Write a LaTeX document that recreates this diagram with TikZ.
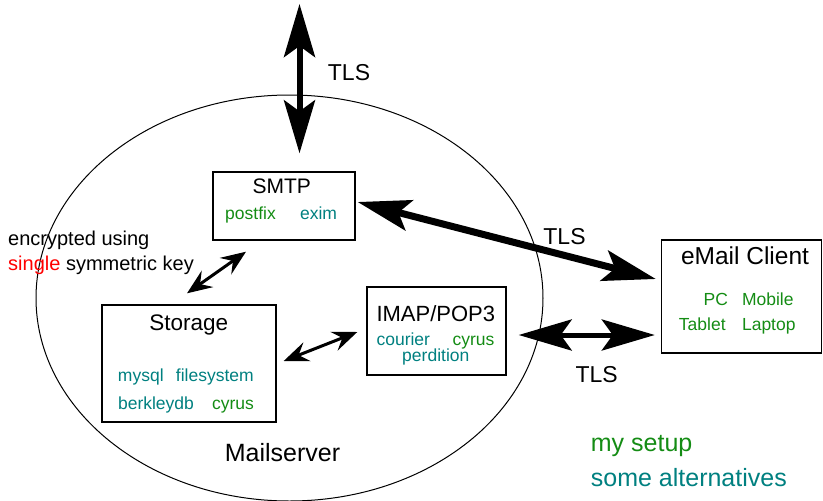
\documentclass[tikz,border=0pt]{standalone}
\usepackage{fontspec}
\setmainfont{Liberation Sans}
\usetikzlibrary{arrows.meta,calc}
\definecolor{mygreen}{RGB}{20,140,20}
\definecolor{myteal}{RGB}{0,128,128}
\definecolor{myred}{RGB}{255,0,0}
\begin{document}
\begin{tikzpicture}[x=1pt,y=-1pt,
  box/.style={draw=black, line width=1.4pt, rectangle, inner sep=0pt},
  lbl/.style={anchor=base, inner sep=0pt},
  small/.style={lbl, font=\fontsize{17.5}{20}\selectfont},
  alt/.style={small, text=myteal},
  mine/.style={small, text=mygreen},
  tls/.style={lbl, font=\fontsize{23}{26}\selectfont},
  big/.style={line width=#1, {Stealth[length=53pt,width=31pt,inset=11pt]}-{Stealth[length=53pt,width=31pt,inset=11pt]}},
  thin/.style={line width=3pt, {Stealth[length=25pt,width=20pt,inset=9pt]}-{Stealth[length=25pt,width=20pt,inset=9pt]}}
]
\useasboundingbox (0,0) rectangle (823,501);

% mailserver ellipse
\draw[line width=1pt] (289.5,298) ellipse [x radius=253.5pt, y radius=203pt];
\node[lbl, font=\fontsize{25}{28}\selectfont] (mailserver) at (282.5,461.7) {Mailserver};

% boxes
\node[box, minimum width=142pt, minimum height=68pt] (smtp) at (284,206) {};
\node[box, minimum width=174pt, minimum height=117pt] (storage) at (189,363.5) {};
\node[box, minimum width=139pt, minimum height=88pt] (imap) at (436.5,331) {};
\node[box, minimum width=160pt, minimum height=113pt] (client) at (741.5,296.5) {};

% SMTP
\node[lbl, font=\fontsize{21}{24}\selectfont] (smtpT) at (281.7,193) {SMTP};
\node[mine] (postfix) at (250.5,219) {postfix};
\node[alt] (exim) at (318.5,219) {exim};

% Storage
\node[lbl, font=\fontsize{22.5}{26}\selectfont] (storageT) at (188.7,330) {Storage};
\node[alt] (mysql) at (140.8,381.7) {mysql};
\node[alt] (filesystem) at (214.8,381.7) {filesystem};
\node[alt] (berkleydb) at (156,409) {berkleydb};
\node[mine] (cyrusS) at (233,409) {cyrus};

% IMAP
\node[lbl, font=\fontsize{22}{25}\selectfont] (imapT) at (435.8,321.7) {IMAP/POP3};
\node[alt] (courier) at (403.3,345) {courier};
\node[mine] (cyrusI) at (473.5,345) {cyrus};
\node[alt] (perdition) at (435.8,361.7) {perdition};

% Client
\node[lbl, font=\fontsize{24.5}{28}\selectfont] (clientT) at (745,264) {eMail Client};
\node[mine] (pc) at (715.8,305.7) {PC};
\node[mine] (mobile) at (767.8,305.7) {Mobile};
\node[mine] (tablet) at (702.3,330.7) {Tablet};
\node[mine] (laptop) at (768.8,330.7) {Laptop};

% encryption note
\node[lbl, anchor=base west, font=\fontsize{20}{23}\selectfont] (enc1) at (8,245) {encrypted using};
\node[lbl, anchor=base west, font=\fontsize{20}{23}\selectfont] (enc2) at (8,270) {\textcolor{myred}{single} symmetric key};

% legend
\node[lbl, anchor=base west, font=\fontsize{25}{28}\selectfont, text=mygreen] (legmine) at (590.7,451.7) {my setup};
\node[lbl, anchor=base west, font=\fontsize{25}{28}\selectfont, text=myteal] (legalt) at (590.7,486.7) {some alternatives};

% TLS labels
\node[tls] (tls1) at (349,80) {TLS};
\node[tls] (tls2) at (564.5,244.3) {TLS};
\node[tls] (tls3) at (596.7,382) {TLS};

% connectors
\coordinate (net) at (299.5,4);
\coordinate (smtpIn) at ($(smtp.north)+(15.5,-18)$);
\draw[big=6pt] (net) -- (smtpIn);
\draw[big=7pt] ($(smtp.east)+(2,-4)$) -- ($(client.west)+(-5,-17.5)$);
\draw[big=5pt] ($(imap.east)+(12,4)$) -- ($(client.west)+(-6,38.5)$);
\draw[thin] ($(storage.north)+(-2,-11)$) -- ($(smtp.south)+(-38,11)$);
\draw[thin] ($(storage.east)+(7,-2.5)$) -- ($(imap.west)+(-9,1)$);
\end{tikzpicture}
\end{document}
